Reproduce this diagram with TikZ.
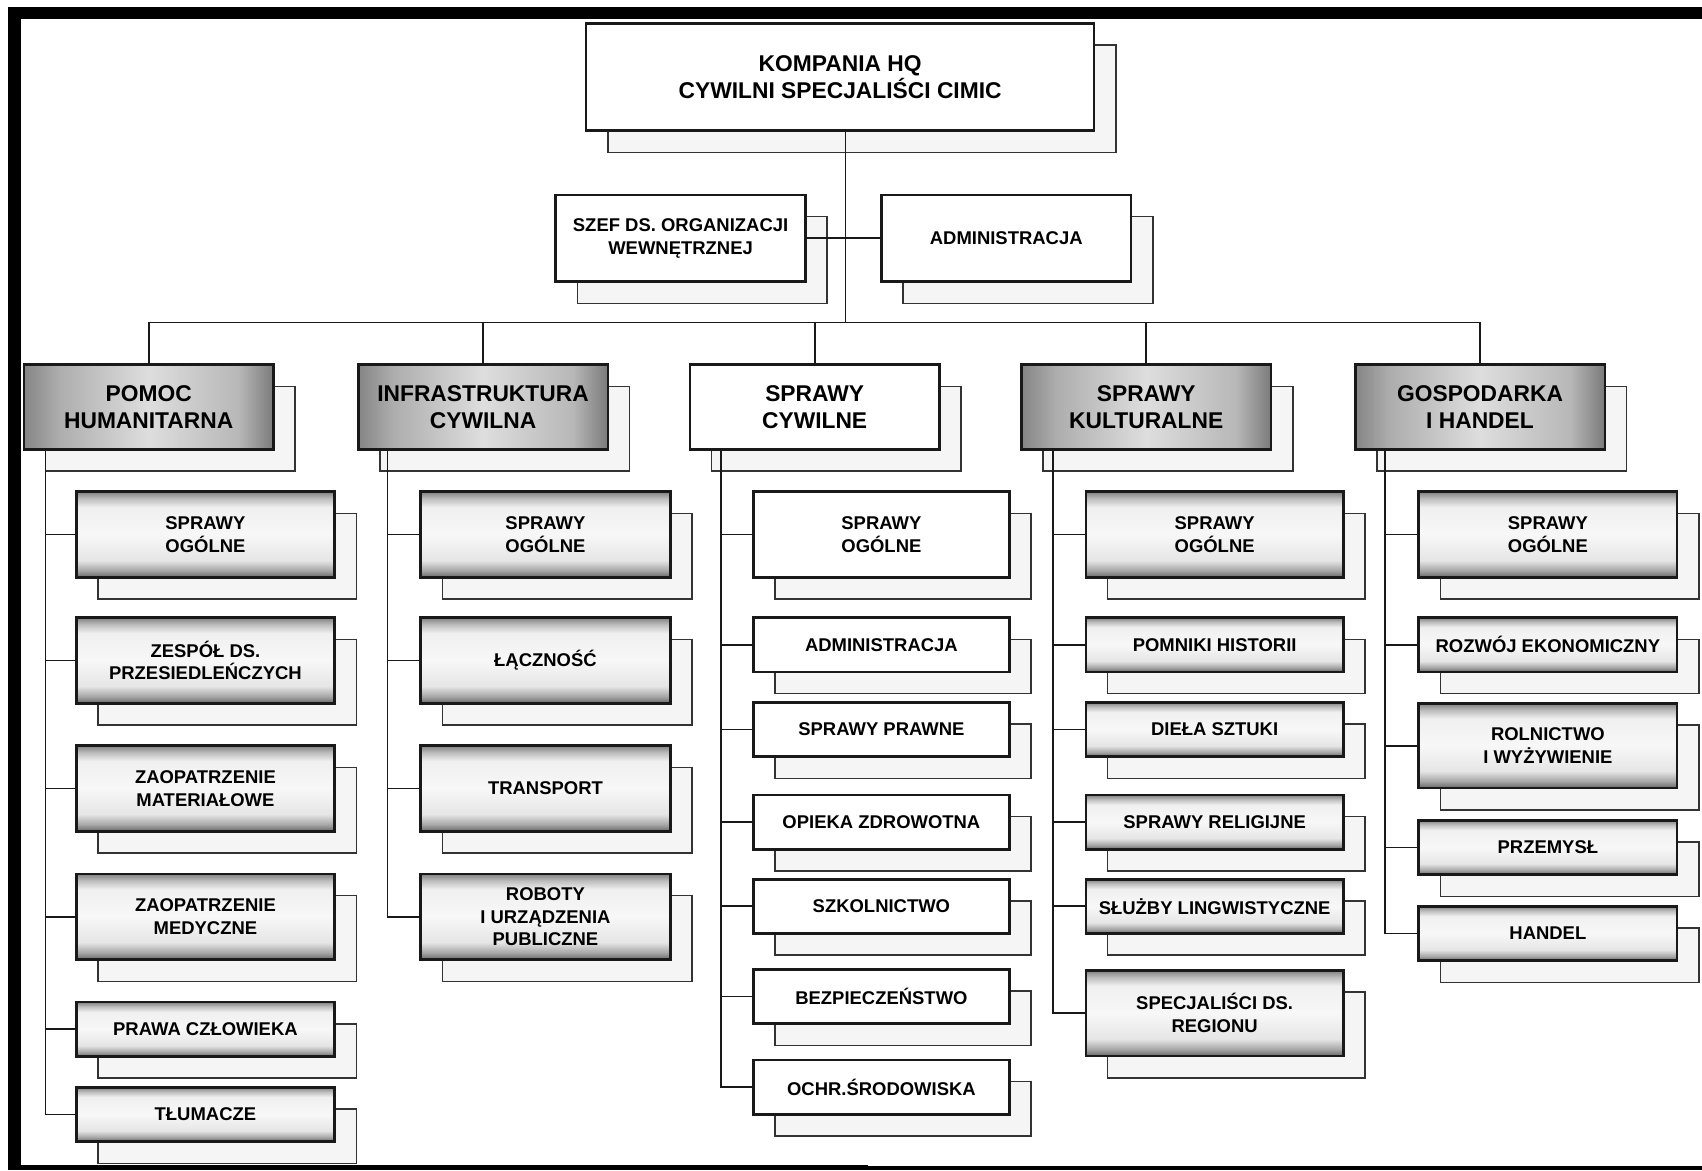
\documentclass[tikz,border=0pt]{standalone}
\usepackage{fontspec}
\setmainfont{Liberation Sans}
\pgfdeclarelayer{bg}
\pgfsetlayers{bg,main}
\pgfdeclareverticalshading{tubeshade}{100bp}{color(0bp)=(black!60); color(25bp)=(black!60); color(29bp)=(black!35); color(35bp)=(black!10); color(50bp)=(black!3); color(66bp)=(black!6); color(71bp)=(black!26); color(75bp)=(black!50); color(100bp)=(black!50)}
\pgfdeclarehorizontalshading{barrelshade}{100bp}{color(0bp)=(black!48); color(25bp)=(black!48); color(32bp)=(black!32); color(50bp)=(black!13); color(68bp)=(black!28); color(75bp)=(black!52); color(100bp)=(black!52)}
\tikzset{
  box/.style={draw=black!90, line width=2.4pt, inner sep=0pt, outer sep=0pt, align=center, font=\bfseries\fontsize{17}{21}\selectfont},
  whitebox/.style={box, fill=white},
  tubebox/.style={box, shade, shading=tubeshade},
  headfont/.style={font=\bfseries\fontsize{21}{25}\selectfont},
  headbox/.style={box, headfont, shade, shading=barrelshade},
  headwhite/.style={box, headfont, fill=white},
  shadowbox/.style={draw=black!80, line width=1.4pt, fill=black!4},
  conn/.style={draw=black!90, line width=1.6pt},
  tall/.style={minimum height=79pt},
  short/.style={minimum height=50pt},
  wA/.style={minimum width=238pt},
  wB/.style={minimum width=230pt},
  wC/.style={minimum width=236pt},
  wD/.style={minimum width=237pt},
  lvl/.style={minimum width=230pt, minimum height=78pt},
}
\begin{document}
\begin{tikzpicture}[x=1pt,y=-1pt]
\begin{pgfonlayer}{bg}
\fill[white] (0,0) rectangle (1568,1078);
\end{pgfonlayer}
\useasboundingbox (0,0) rectangle (1568,1078);
% frame
\fill[black] (7.6,6.7) rectangle (1568,17.8);
\fill[black] (7.6,6.7) rectangle (19,1078);
\fill[black] (7.6,1073) rectangle (800,1078);
\fill[black] (800,1074.5) rectangle (1568,1078);

% top level
\node[whitebox, headfont, minimum width=468pt, minimum height=99pt] (top) at (774,71) {KOMPANIA HQ\\CYWILNI SPECJALIŚCI CIMIC};
\node[whitebox, minimum width=230pt, minimum height=80pt] (szef) at (627,219.5) {SZEF DS. ORGANIZACJI\\WEWNĘTRZNEJ};
\node[whitebox, minimum width=230pt, minimum height=80pt] (adm) at (927,219.5) {ADMINISTRACJA};

% level 2
\node[headbox, lvl] (l1) at (137,375) {POMOC\\HUMANITARNA};
\node[headbox, lvl] (l2) at (445,375) {INFRASTRUKTURA\\CYWILNA};
\node[headwhite, lvl] (l3) at (750.5,375) {SPRAWY\\CYWILNE};
\node[headbox, lvl] (l4) at (1056,375) {SPRAWY\\KULTURALNE};
\node[headbox, lvl] (l5) at (1363.5,375) {GOSPODARKA\\I HANDEL};

% column 1
\node[tubebox, wA, tall] (a1) at (189.25,492.5) {SPRAWY\\OGÓLNE};
\node[tubebox, wA, tall] (a2) at (189.25,608.5) {ZESPÓŁ DS.\\PRZESIEDLEŃCZYCH};
\node[tubebox, wA, tall] (a3) at (189.25,726.5) {ZAOPATRZENIE\\MATERIAŁOWE};
\node[tubebox, wA, tall] (a4) at (189.25,844.5) {ZAOPATRZENIE\\MEDYCZNE};
\node[tubebox, wA, short] (a5) at (189.25,948.2) {PRAWA CZŁOWIEKA};
\node[tubebox, wA, short] (a6) at (189.25,1026.7) {TŁUMACZE};

% column 2
\node[tubebox, wB, tall] (b1) at (502.5,492.5) {SPRAWY\\OGÓLNE};
\node[tubebox, wB, tall] (b2) at (502.5,608.5) {ŁĄCZNOŚĆ};
\node[tubebox, wB, tall] (b3) at (502.5,726.5) {TRANSPORT};
\node[tubebox, wB, tall] (b4) at (502.5,844.5) {ROBOTY\\I URZĄDZENIA\\PUBLICZNE};

% column 3
\node[whitebox, wC, tall] (c1) at (812,492.5) {SPRAWY\\OGÓLNE};
\node[whitebox, wC, short] (c2) at (812,594) {ADMINISTRACJA};
\node[whitebox, wC, short] (c3) at (812,672) {SPRAWY PRAWNE};
\node[whitebox, wC, short] (c4) at (812,757.4) {OPIEKA ZDROWOTNA};
\node[whitebox, wC, short] (c5) at (812,835) {SZKOLNICTWO};
\node[whitebox, wC, short] (c6) at (812,918) {BEZPIECZEŃSTWO};
\node[whitebox, wC, short] (c7) at (812,1001.5) {OCHR.ŚRODOWISKA};

% column 4
\node[tubebox, wD, tall] (d1) at (1119,492.5) {SPRAWY\\OGÓLNE};
\node[tubebox, wD, short] (d2) at (1119,594) {POMNIKI HISTORII};
\node[tubebox, wD, short] (d3) at (1119,672) {DIEŁA SZTUKI};
\node[tubebox, wD, short] (d4) at (1119,757.4) {SPRAWY RELIGIJNE};
\node[tubebox, wD, short] (d5) at (1119,835) {SŁUŻBY LINGWISTYCZNE};
\node[tubebox, wD, tall] (d6) at (1119,933.5) {SPECJALIŚCI DS.\\REGIONU};

% column 5
\node[tubebox, wA, tall] (e1) at (1426,492.5) {SPRAWY\\OGÓLNE};
\node[tubebox, wA, short] (e2) at (1426,594) {ROZWÓJ EKONOMICZNY};
\node[tubebox, wA, minimum height=78pt] (e3) at (1426,687) {ROLNICTWO\\I WYŻYWIENIE};
\node[tubebox, wA, short] (e4) at (1426,780.7) {PRZEMYSŁ};
\node[tubebox, wA, short] (e5) at (1426,860) {HANDEL};

% guide coordinates
\coordinate (busc) at (779,297);
\coordinate (x1) at (42,0);
\coordinate (x2) at (357,0);
\coordinate (x3) at (664,0);
\coordinate (x4) at (970,0);
\coordinate (x5) at (1276,0);

\begin{pgfonlayer}{bg}
% shadows
\foreach \n in {top,szef,adm,l1,l2,l3,l4,l5,a1,a2,a3,a4,a5,a6,b1,b2,b3,b4,c1,c2,c3,c4,c5,c6,c7,d1,d2,d3,d4,d5,d6,e1,e2,e3,e4,e5}
  \draw[shadowbox] ([shift={(20,20)}]\n.north west) rectangle ([shift={(20,20)}]\n.south east);
% connectors
\draw[conn] (top.south -| busc) -- (busc);
\draw[conn] (szef.east) -- (adm.west);
\draw[conn] (l1.north) -- (l1.north |- busc) -- (l5.north |- busc) -- (l5.north);
\draw[conn] (l2.north) -- (l2.north |- busc);
\draw[conn] (l3.north) -- (l3.north |- busc);
\draw[conn] (l4.north) -- (l4.north |- busc);
% column 1
\draw[conn] (l1.south -| x1) -- (x1 |- a6.west) -- (a6.west);
\foreach \n in {a1,a2,a3,a4,a5} \draw[conn] (x1 |- \n.west) -- (\n.west);
% column 2
\draw[conn] (l2.south -| x2) -- (x2 |- b4.west) -- (b4.west);
\foreach \n in {b1,b2,b3} \draw[conn] (x2 |- \n.west) -- (\n.west);
% column 3
\draw[conn] (l3.south -| x3) -- (x3 |- c7.west) -- (c7.west);
\foreach \n in {c1,c2,c3,c4,c5,c6} \draw[conn] (x3 |- \n.west) -- (\n.west);
% column 4
\draw[conn] (l4.south -| x4) -- (x4 |- d6.west) -- (d6.west);
\foreach \n in {d1,d2,d3,d4,d5} \draw[conn] (x4 |- \n.west) -- (\n.west);
% column 5
\draw[conn] (l5.south -| x5) -- (x5 |- e5.west) -- (e5.west);
\foreach \n in {e1,e2,e3,e4} \draw[conn] (x5 |- \n.west) -- (\n.west);
\end{pgfonlayer}
\end{tikzpicture}
\end{document}
